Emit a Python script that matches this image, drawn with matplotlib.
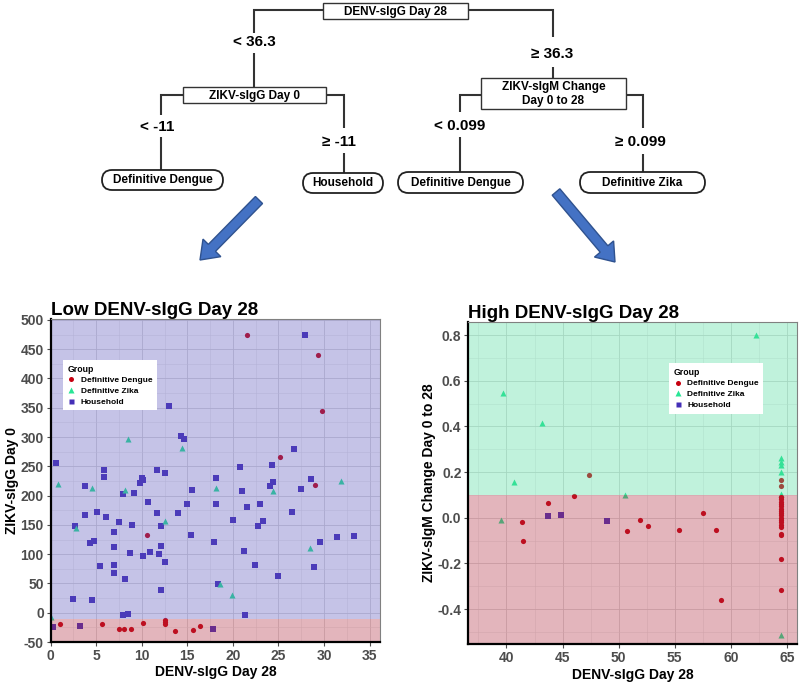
import matplotlib
matplotlib.use("Agg")
import matplotlib.pyplot as plt
from matplotlib.patches import Rectangle, FancyBboxPatch, FancyArrow
from matplotlib.lines import Line2D
from matplotlib.ticker import FixedLocator, FixedFormatter, MultipleLocator

plt.rcParams['font.family'] = ['Liberation Sans', 'DejaVu Sans']

# ---------------- data ----------------
group_labels = ["Definitive Dengue", "Definitive Zika", "Household"]

low_dengue_x = [21.6, 29.3, 29.8, 25.2, 29.0, 10.6, 1.0, 5.6, 7.5, 8.0, 8.8, 10.1, 12.6, 12.6, 12.6, 13.6, 15.6, 16.4]
low_dengue_y = [475, 440, 344, 266, 218, 133, -20, -18.5, -27, -27.5, -27, -17, -12, -16, -20, -30.5, -29.5, -23]

low_zika_x = [8.5, 14.4, 0.85, 4.5, 8.2, 18.1, 31.9, 24.4, 2.8, 12.5, 18.6, 19.9, 28.5, 0.05]
low_zika_y = [297, 281, 220, 213, 210, 213, 225, 207, 144, 156, 49, 31, 110, -7]

low_house_x = [0.55, 5.8, 5.8, 3.8, 10.0, 10.1, 9.8, 11.7, 12.5, 13.0, 14.3, 14.6, 15.5, 18.1, 20.8, 21.0,
               24.3, 24.4, 24.1, 27.9, 26.7, 28.6, 27.5,
               7.9, 9.1, 3.8, 5.1, 6.1, 7.5, 2.7, 8.9, 10.7, 11.7, 12.1, 14.0, 15.0, 18.1, 20.0, 21.5, 23.0,
               23.3, 22.8, 26.5, 4.3, 4.7, 6.9, 7.0, 12.1, 11.9, 10.9, 10.1, 8.7, 12.6, 15.4, 17.9, 21.2,
               22.4, 5.4, 7.0, 6.9, 8.1, 12.1, 18.4, 25.0, 28.9, 29.6, 31.4, 33.3, 2.5, 4.5, 7.9, 8.5,
               21.3, 0.3, 3.2, 17.8]
low_house_y = [255, 244, 232, 216, 230, 227, 221, 244, 239, 353, 302, 297, 210, 230, 248, 207,
               252, 223, 216, 475, 280, 229, 211,
               202, 204, 166, 172, 164, 155, 148, 149, 189, 170, 148, 170, 186, 186, 159, 181, 185,
               157, 148, 172, 119, 123, 113, 137.5, 114, 100, 103, 96, 102, 86, 132, 120, 105,
               82, 79, 82, 68, 58, 38, 49, 62.5, 78, 120, 129, 131, 24, 21, -4, -3,
               -4, -24, -23, -28]

high_dengue_x = [47.4, 43.7, 46.0, 41.4, 41.5, 50.7, 51.9, 52.6, 55.4, 57.5, 58.7, 59.1,
                 64.5, 64.5, 64.5, 64.5, 64.5, 64.5, 64.5, 64.5, 64.5, 64.5,
                 64.5, 64.5, 64.5, 64.5, 64.5, 64.5, 64.5, 64.5, 64.5, 64.5]
high_dengue_y = [0.189, 0.065, 0.097, -0.02, -0.10, -0.06, -0.01, -0.035, -0.053, 0.019, -0.053, -0.361,
                 0.165, 0.138, 0.09, 0.08, 0.07, 0.06, 0.05, 0.04, 0.03, 0.02,
                 0.01, 0.0, -0.01, -0.02, -0.03, -0.04, -0.07, -0.075, -0.18, -0.315]

high_zika_x = [62.2, 39.7, 43.2, 40.7, 39.55, 50.6, 64.5, 64.5, 64.5, 64.5, 64.5, 64.5]
high_zika_y = [0.80, 0.548, 0.413, 0.158, -0.01, 0.10, 0.26, 0.245, 0.23, 0.20, 0.105, -0.515]

high_house_x = [43.7, 44.9, 49.0]
high_house_y = [0.009, 0.014, -0.014]

low_xticks = [0, 5, 10, 15, 20, 25, 30, 35]
low_yticks = [-50, 0, 50, 100, 150, 200, 250, 300, 350, 400, 450, 500]
low_ytick_labels = ["-50", "0", "50", "100", "150", "200", "250", "300", "350", "400", "450", "500"]
high_xticks = [40, 45, 50, 55, 60, 65]
high_yticks = [-0.4, -0.2, 0.0, 0.2, 0.4, 0.6, 0.8]
high_ytick_labels = ["-0.4", "-0.2", "0.0", "0.2", "0.4", "0.6", "0.8"]

low_split = -11
high_split = 0.099

# ---------------- styles ----------------
c_den = '#C6000F'
c_zika = '#28E696'
c_house = '#442FB7'
ov_alpha = 0.35
ov_lav = '#5954BD'
ov_red = '#AF2C40'
ov_green = '#4BDA9B'
tick_col = '#4D4D4D'

fig = plt.figure(figsize=(8, 6.84), dpi=100)

# ---------------- tree (pixel coordinates) ----------------
tr = fig.add_axes([0, 0, 1, 1])
tr.set_xlim(0, 800)
tr.set_ylim(684, 0)
tr.axis('off')

line_kw = dict(color='#333333', lw=1.5, solid_capstyle='butt', solid_joinstyle='miter')

def rbox(x0, y0, x1, y1, text):
    tr.add_patch(Rectangle((x0, y0), x1 - x0, y1 - y0, fc='white', ec='#333333', lw=1.0, zorder=3))
    tr.text((x0 + x1) / 2, (y0 + y1) / 2 + 0.5, text, ha='center', va='center', fontsize=8.5,
            fontweight='bold', zorder=4, linespacing=1.25)

def pill(x0, y0, x1, y1, text):
    h = y1 - y0
    tr.add_patch(FancyBboxPatch((x0, y0), x1 - x0, h, boxstyle=f"round,pad=0,rounding_size={h/2}",
                                fc='white', ec='#222222', lw=1.3, zorder=3))
    tr.text((x0 + x1) / 2, (y0 + y1) / 2 + 0.5, text, ha='center', va='center', fontsize=8.5,
            fontweight='bold', zorder=4)

def lab(x, y, text):
    tr.text(x, y, text, ha='center', va='center', fontsize=11, fontweight='bold',
            family=['Liberation Sans', 'DejaVu Sans'])

rbox(323, 3, 468, 19, "DENV-sIgG Day 28")
tr.plot([323, 254, 254], [10, 10, 33], **line_kw)
lab(254, 42, "< 36.3")
tr.plot([254, 254], [53, 87], **line_kw)
rbox(183, 87, 326, 103, "ZIKV-sIgG Day 0")
tr.plot([183, 161, 161], [95, 95, 115], **line_kw)
lab(157, 127, "< -11")
tr.plot([161, 161], [137, 170], **line_kw)
pill(102, 170, 223, 190, "Definitive Dengue")
tr.plot([326, 344, 344], [95, 95, 128], **line_kw)
lab(339, 142, "≥ -11")
tr.plot([344, 344], [153, 173], **line_kw)
pill(303, 173, 383, 193, "Household")

tr.plot([468, 553, 553], [10, 10, 37], **line_kw)
lab(552, 54, "≥ 36.3")
tr.plot([553, 553], [67, 78], **line_kw)
rbox(481, 78, 626, 109, "ZIKV-sIgM Change\nDay 0 to 28")
tr.plot([481, 460, 460], [95, 95, 112], **line_kw)
lab(460, 126, "< 0.099")
tr.plot([460, 460], [137, 172], **line_kw)
pill(398, 172, 523, 193, "Definitive Dengue")
tr.plot([626, 643, 643], [95, 95, 128], **line_kw)
lab(640, 142, "≥ 0.099")
tr.plot([643, 643], [154, 172], **line_kw)
pill(580, 172, 705, 193, "Definitive Zika")

arrow_kw = dict(width=10, head_width=25, head_length=17, length_includes_head=True,
                fc='#4472C4', ec='#2F528F', lw=1.0)
tr.add_patch(FancyArrow(259, 200, -59, 60, **arrow_kw))
tr.add_patch(FancyArrow(556, 192, 59, 70, **arrow_kw))


# ---------------- scatter panels ----------------
def style_axes(ax, xticks, yticks, ylabels, xminor, yminor):
    ax.set_facecolor('white')
    ax.xaxis.set_major_locator(FixedLocator(xticks))
    ax.xaxis.set_major_formatter(FixedFormatter([str(t) for t in xticks]))
    ax.yaxis.set_major_locator(FixedLocator(yticks))
    ax.yaxis.set_major_formatter(FixedFormatter(ylabels))
    ax.xaxis.set_minor_locator(MultipleLocator(xminor))
    ax.yaxis.set_minor_locator(MultipleLocator(yminor))
    ax.set_axisbelow(True)
    ax.grid(which='major', color='#D6D6D6', lw=0.6)
    ax.grid(which='minor', color='#E6E6E6', lw=0.4)
    ax.tick_params(which='major', length=3, width=0.8, color=tick_col, labelcolor=tick_col,
                   labelsize=10, pad=2)
    ax.tick_params(which='minor', length=0)
    for lbl in ax.get_xticklabels() + ax.get_yticklabels():
        lbl.set_fontweight('bold')
    for s in ['top', 'right']:
        ax.spines[s].set_color('#808080')
        ax.spines[s].set_linewidth(0.8)
    for s in ['left', 'bottom']:
        ax.spines[s].set_color('black')
        ax.spines[s].set_linewidth(1.6)
    for s in ax.spines.values():
        s.set_zorder(6)


def add_legend(ax, anchor):
    handles = [Line2D([], [], ls='none', marker='o', ms=3.6, mfc=c_den, mec='none'),
               Line2D([], [], ls='none', marker='^', ms=4.2, mfc=c_zika, mec='none'),
               Line2D([], [], ls='none', marker='s', ms=3.6, mfc=c_house, mec='none')]
    leg = ax.legend(handles, group_labels, title='Group', loc='upper left', bbox_to_anchor=anchor,
                    prop={'size': 6, 'weight': 'bold'},
                    title_fontproperties={'size': 6.3, 'weight': 'bold'},
                    frameon=True, fancybox=False, edgecolor='none', facecolor='white', framealpha=1,
                    borderpad=0.55, labelspacing=0.35, handlelength=0.9, handletextpad=0.7,
                    alignment='left', borderaxespad=0)
    leg.set_zorder(10)


ms_c, ms_t, ms_s = 14, 19, 17

# Low panel
ax1 = fig.add_axes([0.0634, 0.0614, 0.4116, 0.4718])
ax1.set_xlim(0, 36.15)
ax1.set_ylim(-50, 501)
ax1.scatter(low_house_x, low_house_y, s=ms_s, marker='s', c=c_house, lw=0, zorder=2)
ax1.scatter(low_zika_x, low_zika_y, s=ms_t, marker='^', c=c_zika, lw=0, zorder=2)
ax1.scatter(low_dengue_x, low_dengue_y, s=ms_c, marker='o', c=c_den, lw=0, zorder=2)
ax1.axhspan(low_split, 501, color=ov_lav, alpha=ov_alpha, lw=0, zorder=3)
ax1.axhspan(-50, low_split, color=ov_red, alpha=ov_alpha, lw=0, zorder=3)
style_axes(ax1, low_xticks, low_yticks, low_ytick_labels, 2.5, 25)
ax1.set_title("Low DENV-sIgG Day 28", loc='left', fontsize=13.5, fontweight='bold', pad=3)
ax1.set_xlabel("DENV-sIgG Day 28", fontsize=10, fontweight='bold')
ax1.set_ylabel("ZIKV-sIgG Day 0", fontsize=10, fontweight='bold')
ax1.xaxis.set_label_coords(0.5, -0.071)
ax1.yaxis.set_label_coords(-0.096, 0.5)
add_legend(ax1, (0.037, 0.874))

# High panel
ax2 = fig.add_axes([0.5854, 0.0585, 0.4109, 0.4703])
ax2.set_xlim(36.6, 65.9)
ax2.set_ylim(-0.553, 0.856)
ax2.scatter(high_house_x, high_house_y, s=ms_s, marker='s', c=c_house, lw=0, zorder=2)
ax2.scatter(high_zika_x, high_zika_y, s=ms_t, marker='^', c=c_zika, lw=0, zorder=2)
ax2.scatter(high_dengue_x, high_dengue_y, s=ms_c, marker='o', c=c_den, lw=0, zorder=2)
ax2.axhspan(high_split, 0.856, color=ov_green, alpha=ov_alpha, lw=0, zorder=3)
ax2.axhspan(-0.553, high_split, color=ov_red, alpha=ov_alpha, lw=0, zorder=3)
style_axes(ax2, high_xticks, high_yticks, high_ytick_labels, 2.5, 0.1)
ax2.set_title("High DENV-sIgG Day 28", loc='left', fontsize=13.5, fontweight='bold', pad=3)
ax2.set_xlabel("DENV-sIgG Day 28", fontsize=10, fontweight='bold')
ax2.set_ylabel("ZIKV-sIgM Change Day 0 to 28", fontsize=10, fontweight='bold')
ax2.xaxis.set_label_coords(0.5, -0.075)
ax2.yaxis.set_label_coords(-0.098, 0.5)
add_legend(ax2, (0.611, 0.873))

fig.savefig("out.png", dpi=100)
